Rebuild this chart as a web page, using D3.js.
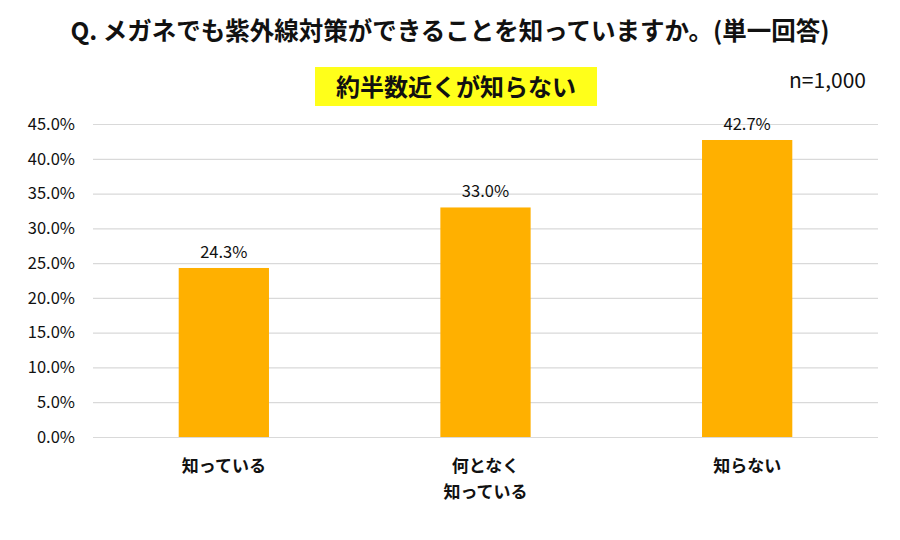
<!DOCTYPE html>
<html>
<head>
<meta charset="utf-8">
<script src="https://cdn.jsdelivr.net/npm/d3@7"></script>
<style>
	body { margin: 0; background: #fff; }
	#chart { width: 900px; height: 540px; }
	text { font-family: "Noto Sans CJK JP", "Noto Sans", sans-serif; fill: #111; }
</style>
</head>
<body>
<div id="chart"></div>
<script>

// ------------------------ data ------------------------------

var categories = [ ["知っている"], ["何となく", "知っている"], ["知らない"] ];
var values = [ 24.3, 33.0, 42.7 ];
var yTicks = [ 0, 5, 10, 15, 20, 25, 30, 35, 40, 45 ];
var titleText = "Q. メガネでも紫外線対策ができることを知っていますか。(単一回答)";
var subtitleText = "約半数近くが知らない";
var sampleText = "n=1,000";

var _data = values.map(function(v, i) { return { key: i, label: categories[i], value: v }; });

// ------------------------ chart ------------------------------

var build_chart = function() {

	var margin = { top: 124, right: 22, bottom: 103, left: 93 },
		width = 900 - margin.left - margin.right,
		height = 540 - margin.top - margin.bottom;

	var svgRoot = d3.select("#chart").append("svg")
			.attr("width", 900)
			.attr("height", 540)
			.attr("viewBox", "0 0 900 540");

	// title
	svgRoot.append("text")
		.attr("x", 450).attr("y", 40)
		.attr("text-anchor", "middle")
		.attr("font-size", "24.5px").attr("font-weight", "bold")
		.text(titleText);

	// highlighted subtitle box
	svgRoot.append("rect")
		.attr("x", 315).attr("y", 67).attr("width", 282).attr("height", 39)
		.attr("fill", "#FFFF1A");
	svgRoot.append("text")
		.attr("x", 456).attr("y", 96)
		.attr("text-anchor", "middle")
		.attr("font-size", "24px").attr("font-weight", "bold")
		.text(subtitleText);

	svgRoot.append("text")
		.attr("x", 866).attr("y", 88)
		.attr("text-anchor", "end")
		.attr("font-family", "Roboto, sans-serif")
		.attr("font-size", "21px")
		.text(sampleText);

	var svg = svgRoot.append("g")
			.attr("transform", "translate(" + margin.left + "," + margin.top + ")");

	// set the ranges
	var x = d3.scaleBand()
			.domain(_data.map(function(d) { return d.key; }))
			.range([0, width])
			.padding(0);

	var y = d3.scaleLinear()
			.domain([0, 45])
			.range([height, 0]);

	var barWidth = x.bandwidth() * 0.345;

	// y axis + gridlines
	var axisY = svg.append("g")
			.call(d3.axisLeft(y).tickValues(yTicks).tickSize(-width).tickPadding(18)
				.tickFormat(function(d) { return d.toFixed(1) + "%"; }));
	axisY.select(".domain").remove();
	axisY.selectAll(".tick line").attr("stroke", "#d9d9d9").attr("stroke-width", 1.2);
	axisY.selectAll(".tick text")
		.attr("font-family", "Roboto, sans-serif")
		.attr("font-size", "16.5px")
		.attr("fill", "#111");

	// bars
	svg.append("g").selectAll(".bar")
		.data(_data)
		.enter().append("rect")
			.attr("class", "bar")
			.attr("x", function(d) { return x(d.key) + (x.bandwidth() - barWidth) / 2; })
			.attr("width", barWidth)
			.attr("y", function(d) { return y(d.value); })
			.attr("height", function(d) { return height - y(d.value); })
			.attr("fill", "#FFB000");

	// value labels
	svg.append("g").selectAll(".val")
		.data(_data)
		.enter().append("text")
			.attr("x", function(d) { return x(d.key) + x.bandwidth() / 2; })
			.attr("y", function(d) { return y(d.value) - 10; })
			.attr("text-anchor", "middle")
			.attr("font-family", "Roboto, sans-serif")
			.attr("font-size", "16.5px")
			.text(function(d) { return d.value.toFixed(1) + "%"; });

	// category labels
	var cat = svg.append("g").selectAll(".cat")
		.data(_data)
		.enter().append("text")
			.attr("text-anchor", "middle")
			.attr("font-size", "17px").attr("font-weight", "bold")
			.attr("transform", function(d) { return "translate(" + (x(d.key) + x.bandwidth() / 2) + "," + (height + 35) + ")"; });
	cat.selectAll("tspan")
		.data(function(d) { return d.label; })
		.enter().append("tspan")
			.attr("x", 0)
			.attr("dy", function(d, i) { return i === 0 ? 0 : 26; })
			.text(function(d) { return d; });

}

build_chart();
</script>
</body>
</html>
